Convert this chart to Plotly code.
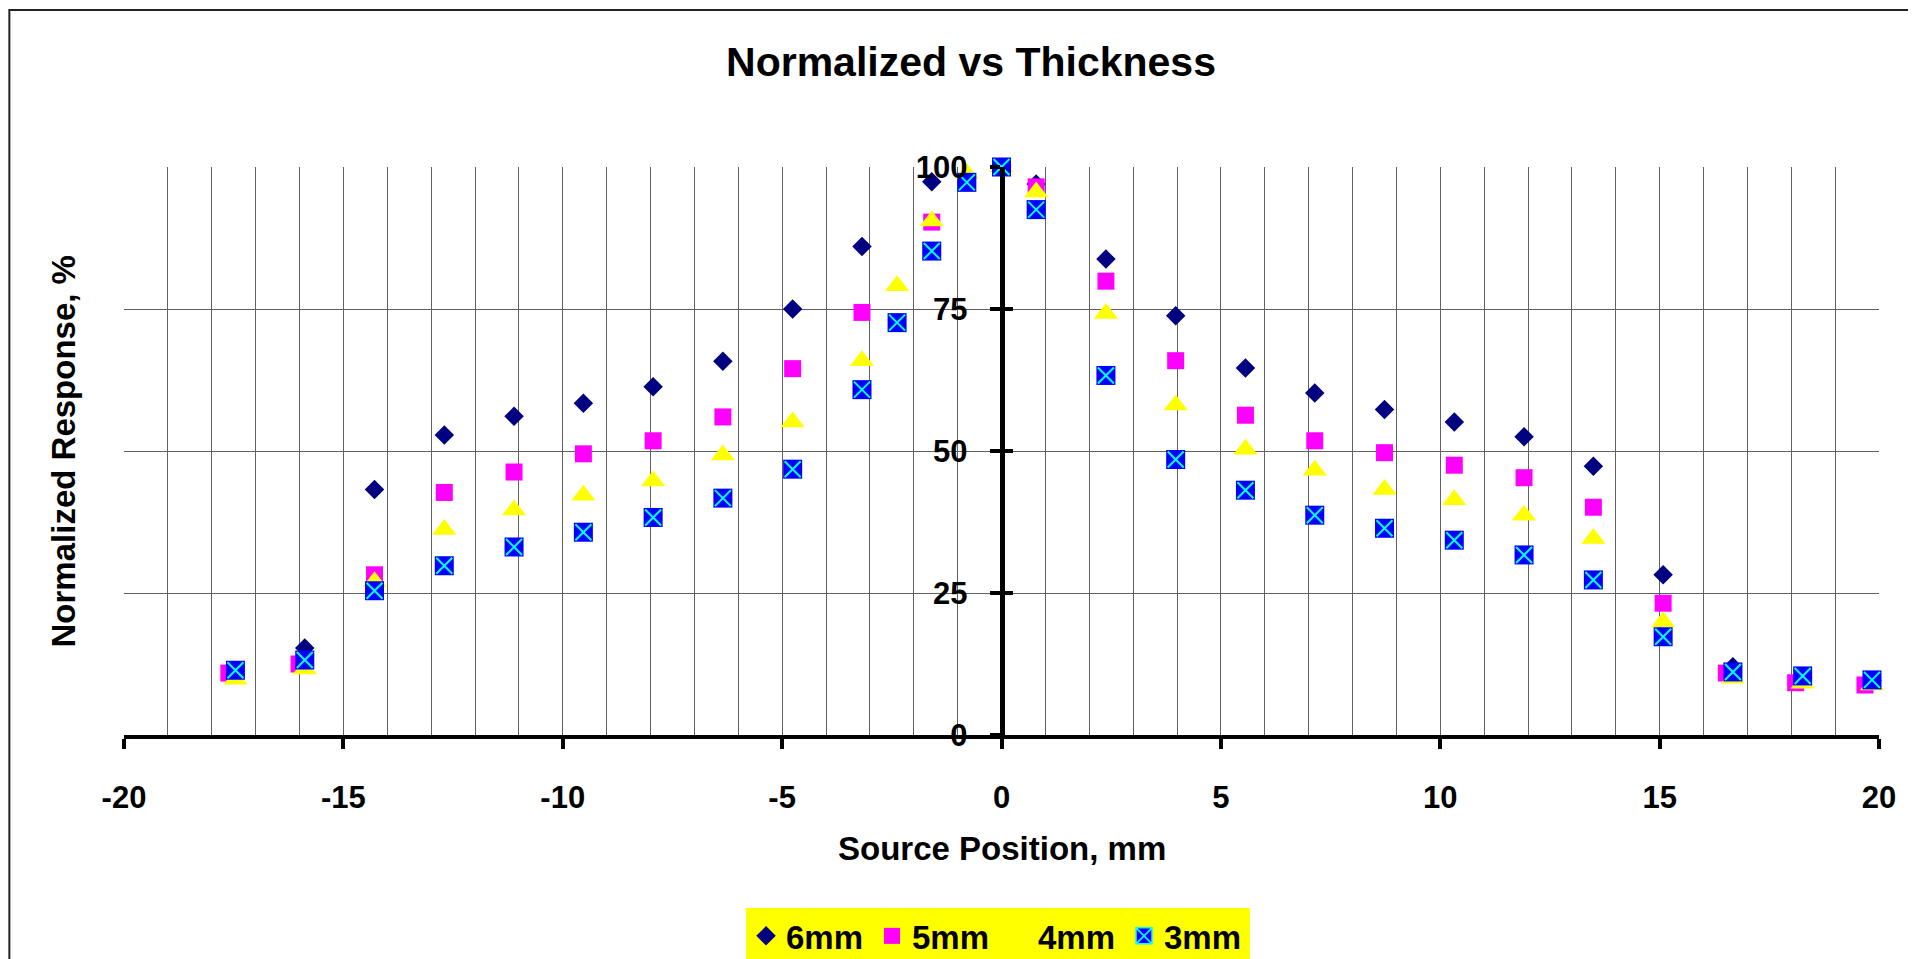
import plotly.graph_objects as go

# ---- data ----
x_6mm = [-17.46, -15.88, -14.29, -12.70, -11.11, -9.53, -7.94, -6.35, -4.76, -3.18, -1.59,
         0.0, 0.79, 2.38, 3.97, 5.56, 7.14, 8.73, 10.32, 11.91, 13.49, 15.08, 16.67, 18.26, 19.84]
y_6mm = [11.3, 15.3, 43.2, 52.8, 56.1, 58.4, 61.3, 65.8, 75.0, 86.0, 97.4,
         100.0, 97.0, 83.8, 73.8, 64.6, 60.2, 57.3, 55.1, 52.5, 47.3, 28.2, 12.0, 10.2, 9.6]

x_5mm = [-17.61, -16.01, -14.29, -12.70, -11.11, -9.53, -7.94, -6.35, -4.76, -3.18, -1.59,
         0.0, 0.79, 2.38, 3.97, 5.56, 7.14, 8.73, 10.32, 11.91, 13.49, 15.08, 16.52, 18.10, 19.68]
y_5mm = [10.9, 12.5, 28.2, 42.7, 46.3, 49.5, 51.8, 56.0, 64.5, 74.4, 90.3,
         100.0, 96.5, 79.9, 65.9, 56.3, 51.8, 49.7, 47.5, 45.3, 40.1, 23.2, 10.9, 9.2, 8.8]

x_4mm = [-17.46, -15.88, -14.29, -12.70, -11.11, -9.53, -7.94, -6.35, -4.76, -3.18, -2.38, -1.59, -0.79,
         0.0, 0.79, 2.38, 3.97, 5.56, 7.14, 8.73, 10.32, 11.91, 13.49, 15.08, 16.67, 18.26, 19.84]
y_4mm = [9.8, 11.6, 27.0, 36.2, 39.6, 42.2, 44.7, 49.3, 55.1, 65.9, 79.1, 90.5, 98.8,
         100.0, 95.6, 74.2, 58.1, 50.3, 46.6, 43.2, 41.4, 38.7, 34.6, 19.9, 10.0, 9.1, 8.8]

x_3mm = [-17.46, -15.88, -14.29, -12.70, -11.11, -9.53, -7.94, -6.35, -4.76, -3.18, -2.38, -1.59, -0.79,
         0.0, 0.79, 2.38, 3.97, 5.56, 7.14, 8.73, 10.32, 11.91, 13.49, 15.08, 16.67, 18.26, 19.84]
y_3mm = [11.4, 13.2, 25.4, 29.8, 33.1, 35.7, 38.3, 41.7, 46.8, 60.8, 72.6, 85.2, 97.3,
         100.0, 92.5, 63.3, 48.5, 43.1, 38.7, 36.4, 34.3, 31.7, 27.3, 17.3, 11.1, 10.4, 9.7]

x_ticks = [-20, -15, -10, -5, 0, 5, 10, 15, 20]
y_ticks = [0, 25, 50, 75, 100]

TITLE = "Normalized vs Thickness"
X_TITLE = "Source Position, mm"
Y_TITLE = "Normalized Response, %"

FONT = "Liberation Sans, Arial, sans-serif"
GRID = "#606060"

# page offset (default body margin of the html page)
OFF = 8
# plot area in page pixels
PL, PR, PT, PB = 123.7, 1879.5, 166.7, 735.0
PW, PH = PR - PL, PB - PT

fig = go.Figure()

fig.add_trace(go.Scatter(x=x_6mm, y=y_6mm, mode="markers", name="6mm", cliponaxis=False,
                         marker=dict(symbol="diamond", size=15, color="#000080")))
fig.add_trace(go.Scatter(x=x_5mm, y=y_5mm, mode="markers", name="5mm", cliponaxis=False,
                         marker=dict(symbol="square", size=17, color="#FF00FF")))
fig.add_trace(go.Scatter(x=x_4mm, y=y_4mm, mode="markers", name="4mm", cliponaxis=False,
                         marker=dict(symbol="triangle-up", size=21, color="#FFFF00")))
# 3mm: blue square with cyan cross
fig.add_trace(go.Scatter(x=x_3mm, y=y_3mm, mode="markers", name="3mm", cliponaxis=False,
                         showlegend=False, legendgroup="3mm",
                         marker=dict(symbol="square", size=19, color="#0000FF")))
fig.add_trace(go.Scatter(x=x_3mm, y=y_3mm, mode="markers", name="3mm", cliponaxis=False,
                         showlegend=False, legendgroup="3mm", hoverinfo="skip",
                         marker=dict(symbol="x-thin", size=16,
                                     line=dict(color="#00FFFF", width=2))))
fig.add_trace(go.Scatter(x=[None], y=[None], mode="markers", name="3mm", legendgroup="3mm",
                         marker=dict(symbol="square-x", size=16, color="#0000FF",
                                     line=dict(color="#00FFFF", width=1.5))))

fig.update_layout(
    width=1916, height=959,
    margin=dict(l=PL - OFF, r=1916 - (PR - OFF), t=PT - OFF, b=959 - (PB - OFF),
                autoexpand=False),
    paper_bgcolor="white", plot_bgcolor="white",
    font=dict(family=FONT, color="black"),
    showlegend=True,
    title=dict(text="<b>" + TITLE + "</b>", font=dict(family=FONT, size=41, color="black"),
               x=(971 - OFF) / 1916, xanchor="center", xref="container",
               y=1 - (62 - OFF) / 959, yanchor="middle", yref="container"),
    legend=dict(orientation="h", x=(746 - PL) / PW, xanchor="left",
                y=(PB - 908) / PH, yanchor="top",
                bgcolor="#FFFF00", borderwidth=0,
                font=dict(family=FONT, size=33, color="black", weight="bold"),
                entrywidth=81, entrywidthmode="pixels",
                traceorder="normal"),
    xaxis=dict(range=[-20, 20], tickvals=x_ticks, ticktext=[str(v) for v in x_ticks],
               showgrid=True, gridcolor=GRID, gridwidth=1,
               minor=dict(dtick=1, tick0=0, showgrid=True, gridcolor=GRID, gridwidth=1),
               zeroline=False, showline=True, linecolor="black", linewidth=4,
               ticks="outside", ticklen=10, tickwidth=4, tickcolor="black",
               ticklabelstandoff=22,
               tickfont=dict(family=FONT, size=31, color="black", weight="bold"),
               anchor="y"),
    yaxis=dict(range=[0, 100], tickvals=y_ticks, ticktext=[str(v) for v in y_ticks],
               showgrid=True, gridcolor=GRID, gridwidth=1,
               zeroline=False, showline=True, linecolor="black", linewidth=4.5,
               ticks="outside", ticklen=10, tickwidth=4, tickcolor="black",
               ticklabelstandoff=16,
               tickfont=dict(family=FONT, size=31, color="black", weight="bold"),
               anchor="free", position=0.5, side="left"),
    yaxis2=dict(range=[0, 100], tickvals=y_ticks, overlaying="y",
                showgrid=False, zeroline=False, showline=False, showticklabels=False,
                ticks="inside", ticklen=10, tickwidth=4, tickcolor="black",
                anchor="free", position=0.5, side="left"),
)

# dummy trace to activate the yaxis2 overlay (no visible marks)
fig.add_trace(go.Scatter(x=[None], y=[None], yaxis="y2", showlegend=False, hoverinfo="skip"))

fig.add_annotation(text="<b>" + X_TITLE + "</b>", xref="paper", yref="paper",
                   x=(1002 - PL) / PW, y=(PB - 849) / PH, xanchor="center", yanchor="middle",
                   showarrow=False, font=dict(family=FONT, size=33, color="black"))
fig.add_annotation(text="<b>" + Y_TITLE + "</b>", xref="paper", yref="paper",
                   x=(63 - PL) / PW, y=(PB - 451) / PH, xanchor="center", yanchor="middle",
                   textangle=-90, showarrow=False, font=dict(family=FONT, size=33, color="black"))

# outer chart border
fig.add_shape(type="rect", xref="paper", yref="paper",
              x0=(9 - PL) / PW, x1=(1940 - PL) / PW,
              y0=(PB - 990) / PH, y1=(PB - 9.5) / PH,
              line=dict(color="#222222", width=2), fillcolor="rgba(0,0,0,0)", layer="below")

fig.write_html("out.html")
